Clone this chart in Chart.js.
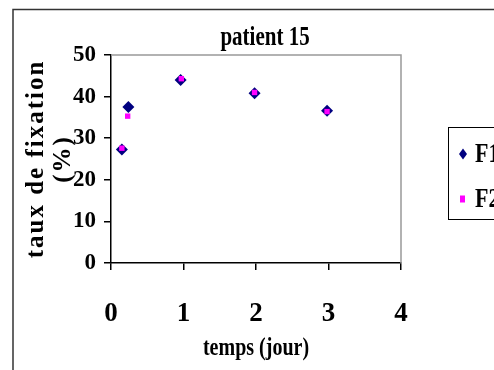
<!DOCTYPE html>
<html>
<head>
<meta charset="utf-8">
<script src="https://cdn.jsdelivr.net/npm/chart.js@4/dist/chart.umd.min.js"></script>
<style>
  html, body { margin: 0; padding: 0; background: #fff; }
  #wrap { width: 494px; height: 370px; }
</style>
</head>
<body>
<div id="wrap"><canvas id="myChart" width="494" height="370"></canvas></div>
<script>
// Data
const chartTitle = 'patient 15';
const xTitle = 'temps (jour)';
const yTitle = ['taux de fixation', '(%)'];
const seriesNames = ['F1', 'F2'];

const f1Days = [0.15, 0.24, 0.96, 1.98, 2.98];
const f1Values = [27.3, 37.5, 44.0, 40.8, 36.6];
const f2Days = [0.15, 0.23, 0.97, 1.98, 2.98];
const f2Values = [27.6, 35.3, 44.3, 41.0, 36.4];

const xTicks = [0, 1, 2, 3, 4];
const yTicks = [0, 10, 20, 30, 40, 50];

const serif = '"Liberation Serif", "Times New Roman", serif';

function toPoints(xs, ys) {
    return xs.map((x, i) => ({ x: x, y: ys[i] }));
}

// text a bit taller than wide, like the original
function tallText(ctx, text, x, y, sy) {
    ctx.save();
    ctx.translate(x, y);
    ctx.scale(1, sy);
    ctx.fillText(text, 0, 0);
    ctx.restore();
}

// Frame, titles, plot border and legend drawn around the chart
const decorations = {
    id: 'decorations',
    beforeDraw(chart) {
        const ctx = chart.ctx;
        ctx.save();
        ctx.fillStyle = '#fff';
        ctx.fillRect(0, 0, chart.width, chart.height);
        ctx.strokeStyle = '#333';
        ctx.lineWidth = 1.5;
        ctx.beginPath();
        ctx.moveTo(13, chart.height);
        ctx.lineTo(13, 9.5);
        ctx.lineTo(chart.width, 9.5);
        ctx.stroke();
        ctx.restore();
    },
    beforeDatasetsDraw(chart) {
        const ctx = chart.ctx;
        const a = chart.chartArea;
        ctx.save();
        ctx.strokeStyle = '#999';
        ctx.lineWidth = 1.5;
        ctx.beginPath();
        ctx.moveTo(a.left, a.top);
        ctx.lineTo(a.right, a.top);
        ctx.lineTo(a.right, a.bottom);
        ctx.stroke();
        ctx.restore();
    },
    afterDraw(chart) {
        const ctx = chart.ctx;
        const a = chart.chartArea;
        ctx.save();
        ctx.fillStyle = '#000';
        ctx.textAlign = 'center';
        ctx.textBaseline = 'middle';

        // title
        ctx.font = 'bold 21px ' + serif;
        tallText(ctx, chartTitle, (a.left + a.right) / 2 + 9, 38, 1.25);

        // x axis title
        ctx.font = 'bold 20px ' + serif;
        tallText(ctx, xTitle, (a.left + a.right) / 2, 348, 1.3);

        // y axis title, two spaced lines
        ctx.translate(37, (a.top + a.bottom) / 2);
        ctx.rotate(-Math.PI / 2);
        ctx.font = 'bold 25px ' + serif;
        ctx.letterSpacing = '2px';
        ctx.fillText(yTitle[0], 0, 0);
        ctx.fillText(yTitle[1], 0, 27);
        ctx.restore();

        // legend box
        ctx.save();
        ctx.strokeStyle = '#000';
        ctx.lineWidth = 1;
        ctx.strokeRect(448.5, 127.5, 60, 92);
        ctx.font = 'bold 22px ' + serif;
        ctx.textBaseline = 'middle';
        ctx.textAlign = 'left';
        const rows = [154, 199];
        chart.data.datasets.forEach((ds, i) => {
            const y = rows[i];
            ctx.fillStyle = ds.backgroundColor;
            if (ds.pointStyle === 'rectRot') {
                ctx.beginPath();
                ctx.moveTo(463, y - 5.5);
                ctx.lineTo(467, y);
                ctx.lineTo(463, y + 5.5);
                ctx.lineTo(459, y);
                ctx.closePath();
                ctx.fill();
            } else {
                ctx.fillRect(460, y - 3.5, 5, 7);
            }
            ctx.fillStyle = '#000';
            tallText(ctx, ds.label, 475, y + 1, 1.2);
        });
        ctx.restore();
    }
};

const ctx = document.getElementById('myChart');

new Chart(ctx, {
    type: 'scatter',
    data: {
        datasets: [{
            label: seriesNames[0],
            data: toPoints(f1Days, f1Values),
            pointStyle: 'rectRot',
            radius: 6,
            backgroundColor: '#000080',
            borderColor: '#000080',
            borderWidth: 0,
            order: 1
        }, {
            label: seriesNames[1],
            data: toPoints(f2Days, f2Values),
            pointStyle: 'rect',
            radius: 3.8,
            backgroundColor: '#ff00ff',
            borderColor: '#ff00ff',
            borderWidth: 0,
            order: 0
        }]
    },
    options: {
        responsive: false,
        animation: false,
        layout: { padding: { left: 0, top: 55, right: 93, bottom: 0 } },
        plugins: {
            legend: { display: false },
            tooltip: { enabled: false }
        },
        scales: {
            x: {
                type: 'linear',
                min: xTicks[0],
                max: xTicks[xTicks.length - 1],
                afterBuildTicks: s => { s.ticks = xTicks.map(v => ({ value: v })); },
                afterFit: s => { s.height = 107; },
                ticks: {
                    color: '#000',
                    padding: 28,
                    maxRotation: 0,
                    font: { family: serif, size: 27, weight: 'bold' }
                },
                grid: { drawOnChartArea: false, tickLength: 7, color: '#000', lineWidth: 1.5 },
                border: { color: '#000', width: 1.5 }
            },
            y: {
                min: yTicks[0],
                max: yTicks[yTicks.length - 1],
                afterBuildTicks: s => { s.ticks = yTicks.map(v => ({ value: v })); },
                afterFit: s => { s.width = 111; },
                ticks: {
                    color: '#000',
                    padding: 8,
                    font: { family: serif, size: 23, weight: 'bold' }
                },
                grid: { drawOnChartArea: false, tickLength: 7, color: '#000', lineWidth: 1.5 },
                border: { color: '#000', width: 1.5 }
            }
        }
    },
    plugins: [decorations]
});
</script>
</body>
</html>
